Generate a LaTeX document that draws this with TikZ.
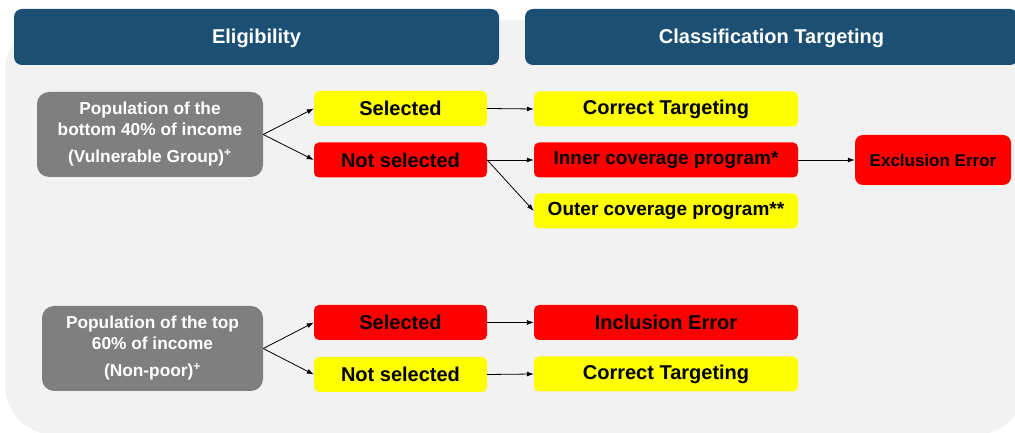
\documentclass[tikz,border=0pt]{standalone}
\usepackage{fontspec}
\setmainfont{Liberation Sans}
\usetikzlibrary{arrows.meta}
\definecolor{hdr}{HTML}{1B5074}
\definecolor{bg}{HTML}{F2F2F2}
\definecolor{grp}{HTML}{7F7F7F}
\definecolor{yel}{HTML}{FFFF00}
\definecolor{rd}{HTML}{FF0000}
\tikzset{
  header/.style={fill=hdr, rounded corners=8pt, minimum height=56pt, text=white, font=\fontsize{20}{23}\selectfont\bfseries, inner sep=0pt, text height=14pt, text depth=0pt},
  group/.style={fill=grp, rounded corners=12pt, minimum height=85pt, text=white, align=center, font=\fontsize{17.3}{21}\selectfont\bfseries, inner sep=0pt},
  smallbox/.style={rounded corners=5pt, minimum width=173pt, minimum height=35pt, inner sep=0pt, font=\fontsize{20}{23}\selectfont\bfseries},
  widebox/.style={rounded corners=5pt, minimum width=264pt, minimum height=35pt, inner sep=0pt, font=\fontsize{19}{22}\selectfont\bfseries},
  bigtext/.style={font=\fontsize{20}{23}\selectfont\bfseries},
  ybox/.style={fill=yel},
  rbox/.style={fill=rd},
  arr/.style={-{Latex[length=7pt,width=5pt]}, line width=0.8pt, black}
}
\begin{document}
\begin{tikzpicture}[x=1pt,y=1pt]
\useasboundingbox (0,0) rectangle (1015,433);
\fill[bg, rounded corners=50pt] (5,-2) rectangle (1025,413);
\node[header, minimum width=485pt] (hE) at (256.5,396) {Eligibility};
\node[header, minimum width=493pt] (hC) at (771.5,396) {Classification Targeting};

\node[group, minimum width=226pt] (g1) at (150,298.5) {Population of the\\bottom 40\% of income\\[6pt](Vulnerable Group)\textsuperscript{+}};
\node[smallbox, ybox] (s1) at (400.5,324.5) {Selected};
\node[smallbox, rbox] (n1) at (400.5,273) {Not selected};
\node[widebox, ybox, bigtext] (ct1) at (666,324) {Correct Targeting};
\node[widebox, rbox] (inner) at (666,273) {Inner coverage program*};
\node[widebox, ybox] (outer) at (666,222) {Outer coverage program**};
\node[rbox, rounded corners=8pt, minimum width=156pt, minimum height=50pt, inner sep=0pt, font=\fontsize{17}{20}\selectfont\bfseries] (excl) at (933,273) {Exclusion Error};

\node[group, minimum width=221pt] (g2) at (152.5,84.5) {Population of the top\\60\% of income\\[6pt](Non-poor)\textsuperscript{+}};
\node[smallbox, rbox] (s2) at (400.5,110.5) {Selected};
\node[smallbox, ybox] (n2) at (400.5,58.5) {Not selected};
\node[widebox, rbox, bigtext] (inc) at (666,110.5) {Inclusion Error};
\node[widebox, ybox, bigtext] (ct2) at (666,59) {Correct Targeting};

\draw[arr] (g1.east) -- (s1.west);
\draw[arr] (g1.east) -- (n1.west);
\draw[arr] (s1.east) -- (ct1.west);
\draw[arr] (n1.east) -- (inner.west);
\draw[arr] (n1.east) -- (outer.west);
\draw[arr] (inner.east) -- (excl.west);
\draw[arr] (g2.east) -- (s2.west);
\draw[arr] (g2.east) -- (n2.west);
\draw[arr] (s2.east) -- (inc.west);
\draw[arr] (n2.east) -- (ct2.west);
\end{tikzpicture}
\end{document}
